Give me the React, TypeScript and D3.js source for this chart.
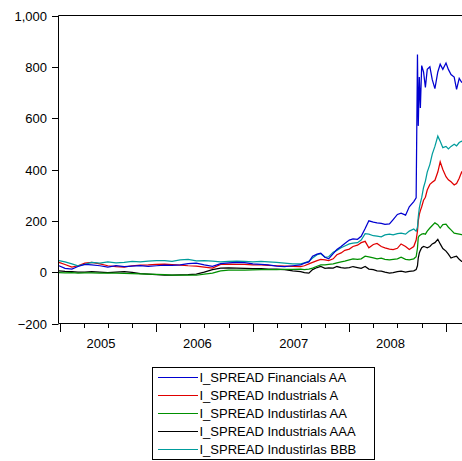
import React from "react";
import * as d3 from "d3";

const dates: string[] = [
  "2004-12-28","2005-01-20","2005-02-15","2005-03-10","2005-04-05","2005-05-01","2005-06-01","2005-07-01","2005-08-01","2005-09-01","2005-10-01","2005-11-01","2005-12-01",
  "2006-01-01","2006-02-01","2006-03-01","2006-04-01","2006-05-01","2006-06-01","2006-07-01","2006-08-01","2006-09-01","2006-10-01","2006-11-01","2006-12-01",
  "2007-01-01","2007-02-01","2007-03-01","2007-04-01","2007-05-01","2007-06-01","2007-07-01","2007-07-15","2007-08-01","2007-08-15","2007-09-01","2007-09-15","2007-10-01","2007-10-15","2007-11-01","2007-11-15","2007-12-01","2007-12-15",
  "2008-01-01","2008-01-15","2008-02-01","2008-02-15","2008-03-01","2008-03-15","2008-04-01","2008-04-15","2008-05-01","2008-05-15","2008-06-01","2008-06-15","2008-07-01","2008-07-15","2008-08-01","2008-08-15","2008-09-01","2008-09-10",
  "2008-09-15","2008-09-18","2008-09-22","2008-09-26","2008-10-01","2008-10-08","2008-10-15","2008-10-22","2008-11-01","2008-11-10","2008-11-20","2008-12-01","2008-12-10","2008-12-20",
  "2009-01-01","2009-01-10","2009-01-20","2009-02-01","2009-02-10","2009-02-20","2009-03-01","2009-03-10"
];

const financialsAA: number[] = [
  25,15,12,22,30,28,25,20,25,22,24,25,23,
  25,27,26,28,33,35,28,23,33,36,38,37,
  32,30,28,24,22,25,28,35,40,62,70,74,58,52,72,88,100,112,
  125,130,128,140,170,200,195,192,190,186,188,205,225,230,222,255,275,290,
  848,570,760,640,805,780,720,790,800,750,715,780,810,790,
  815,790,770,760,712,755,740,745
];

const industrialsA: number[] = [
  38,30,20,25,35,38,32,25,22,20,25,27,28,
  30,31,29,27,25,24,20,16,30,31,30,30,
  28,28,26,25,24,23,22,25,32,38,45,50,48,45,52,68,75,85,
  90,100,105,115,120,95,108,112,100,95,90,88,93,110,100,88,100,125,
  160,200,225,240,255,280,292,320,342,350,358,390,430,400,
  372,360,352,340,345,366,390,380
];

const industrialsAA: number[] = [
  -2,-3,-2,-4,-3,-3,-4,-4,-4,-5,-6,-7,-8,
  -9,-10,-12,-12,-12,-12,-8,-4,5,8,8,8,
  9,10,10,10,11,11,12,10,12,16,23,28,28,30,32,36,40,43,
  48,52,50,52,62,60,56,52,55,50,48,50,52,58,50,48,52,60,
  93,135,142,145,148,150,148,160,172,182,192,185,172,185,
  187,175,165,152,150,148,146,145
];

const industrialsAAA: number[] = [
  5,3,2,0,0,2,0,-2,0,2,-1,-6,-8,
  -10,-12,-12,-11,-10,-8,0,10,16,17,16,15,
  14,14,12,12,10,5,2,-2,-4,10,18,22,15,17,16,22,18,16,
  18,22,18,15,22,12,10,5,4,0,-4,-2,2,4,0,3,5,10,
  25,55,75,85,95,100,98,95,100,110,115,128,110,92,
  82,70,55,60,62,50,42,45
];

const industrialsBBB: number[] = [
  45,40,32,25,30,38,35,40,36,38,42,40,43,
  45,45,42,48,50,44,45,43,40,42,43,42,
  40,42,40,38,35,32,32,36,42,55,68,72,58,60,78,85,95,102,
  110,113,115,125,150,148,142,140,138,145,148,145,150,152,148,160,168,160,
  175,215,250,270,290,330,355,390,420,460,490,530,510,485,
  490,480,490,498,492,505,510,505
];

const seriesNames: string[] = [
  "I_SPREAD Financials AA",
  "I_SPREAD Industrials A",
  "I_SPREAD Industirlas AA",
  "I_SPREAD Industrials AAA",
  "I_SPREAD Industirlas BBB",
];
const seriesColors: string[] = ["#0000d0", "#e00000", "#009000", "#000000", "#009c9c"];
const seriesValues: number[][] = [financialsAA, industrialsA, industrialsAA, industrialsAAA, industrialsBBB];

const yTicks: number[] = [-200, 0, 200, 400, 600, 800, 1000];
const yearLabels: number[] = [2005, 2006, 2007, 2008];

const W = 462;
const H = 461;
const FONT = "Liberation Sans, Arial, sans-serif";

export default function App() {
  const parse = d3.timeParse("%Y-%m-%d");
  const parsed = dates.map((d) => parse(d) as Date);
  const x = d3
    .scaleTime()
    .domain([new Date(2005, 0, 1), new Date(2009, 0, 1)])
    .range([60, 446]);
  const y = d3.scaleLinear().domain([-200, 1000]).range([323.5, 15.5]);
  const left = 58.5;
  const plotRight = 470;

  const line = d3
    .line<number>()
    .x((_, i) => x(parsed[i]))
    .y((v) => y(v));

  const majorTicks = d3.timeYear.range(new Date(2005, 0, 1), new Date(2010, 0, 1));
  const minorTicks = d3.timeMonth
    .every(3)!
    .range(new Date(2005, 0, 1), new Date(2009, 6, 1))
    .filter((d) => d.getMonth() !== 0);

  const legendX = 152.5;
  const legendY = 367.5;
  const rowH = 18;

  return (
    <svg
      width={W}
      height={H}
      style={{ position: "absolute", left: 0, top: 0, background: "#fff" }}
      fontFamily={FONT}
    >
      <defs>
        <clipPath id="plot">
          <rect x={left} y={0} width={plotRight - left} height={323.5} />
        </clipPath>
      </defs>
      <rect x={0} y={0} width={W} height={H} fill="#fff" />
      <g clipPath="url(#plot)">
        {[3, 2, 1, 4, 0].map((k) => (
          <path
            key={k}
            d={line(seriesValues[k]) || ""}
            fill="none"
            stroke={seriesColors[k]}
            strokeWidth={1.25}
            strokeLinejoin="miter"
          />
        ))}
      </g>
      <line x1={left} x2={W} y1={15.5} y2={15.5} stroke="#000" strokeWidth={1} />
      <line x1={left} x2={left} y1={15.5} y2={323.5} stroke="#000" strokeWidth={1} />
      <line x1={left} x2={W} y1={323.5} y2={323.5} stroke="#000" strokeWidth={1} />
      {yTicks.map((t) => (
        <g key={t}>
          <line x1={52} x2={left} y1={Math.round(y(t)) + 0.5} y2={Math.round(y(t)) + 0.5} stroke="#000" />
          <text
            x={47}
            y={Math.round(y(t)) + 4.5}
            textAnchor="end"
            fontSize={13}
            fill="#000"
          >
            {d3.format(",")(t)}
          </text>
        </g>
      ))}
      {majorTicks.map((d) => (
        <line
          key={"M" + d.getTime()}
          x1={Math.round(x(d)) + 0.5}
          x2={Math.round(x(d)) + 0.5}
          y1={323.5}
          y2={332}
          stroke="#000"
        />
      ))}
      {minorTicks.map((d) => (
        <line
          key={"m" + d.getTime()}
          x1={Math.round(x(d)) + 0.5}
          x2={Math.round(x(d)) + 0.5}
          y1={323.5}
          y2={328}
          stroke="#000"
        />
      ))}
      {yearLabels.map((yr) => (
        <text
          key={yr}
          x={x(new Date(yr, 5, 5))}
          y={348}
          textAnchor="middle"
          fontSize={13}
          fill="#000"
        >
          {yr}
        </text>
      ))}
      <rect
        x={legendX}
        y={legendY}
        width={222}
        height={rowH * 5 + 2}
        fill="#fff"
        stroke="#000"
        strokeWidth={1}
      />
      {seriesNames.map((name, i) => (
        <g key={name}>
          <line
            x1={legendX + 5}
            x2={legendX + 45}
            y1={legendY + 10 + i * rowH}
            y2={legendY + 10 + i * rowH}
            stroke={seriesColors[i]}
            strokeWidth={1}
            shapeRendering="crispEdges"
          />
          <text
            x={legendX + 47}
            y={legendY + 14.5 + i * rowH}
            fontSize={13}
            fill="#000"
          >
            {name}
          </text>
        </g>
      ))}
    </svg>
  );
}
